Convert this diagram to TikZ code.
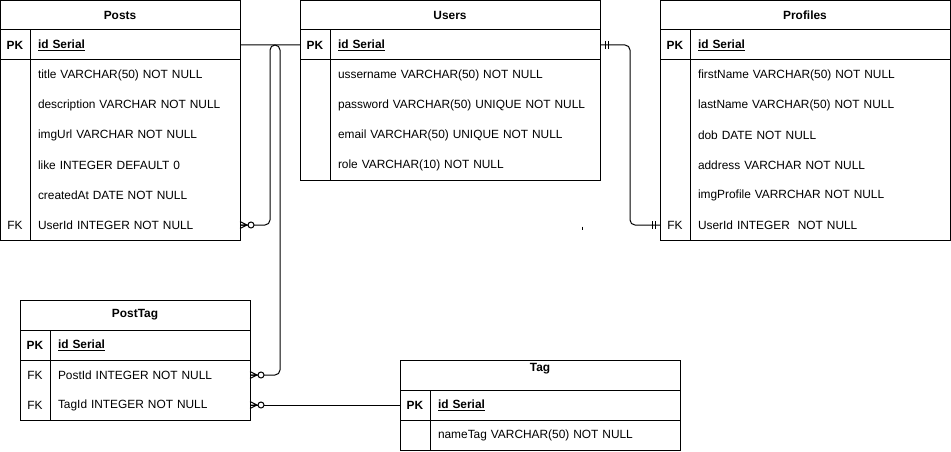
\documentclass[tikz,border=0pt]{standalone}
\usepackage{fontspec}
\setmainfont{Liberation Sans}
\begin{document}
\begin{tikzpicture}[x=1pt,y=-1pt,
  base/.style={font=\fontsize{11.9}{14}\selectfont, inner sep=0, outer sep=0},
  hdr/.style={base, font=\bfseries\fontsize{11.9}{14}\selectfont},
  keycell/.style={base, minimum width=30, minimum height=30},
  tbl/.style={draw, line width=1pt},
  conn/.style={line width=1pt, rounded corners=5},
  zmany/.pic={\draw[line width=1pt] (0,-3.5) -- (7,0) -- (0,3.5) (0,0) -- (7,0);
              \draw[line width=1pt, fill=white] (11,0) circle (3pt);},
  mone/.pic={\draw[line width=1pt] (5,-4) -- (5,4) (8,-4) -- (8,4);}
]
\useasboundingbox (0,0) rectangle (951,452);
\newcommand{\dn}[1]{\raisebox{-1pt}{#1}}
\newcommand{\fld}[5]{\node[base, anchor=west, minimum height=30, inner xsep=8,
  text width=#3-16, minimum width=#3, align=left] (#1) at (#2) {#4\dn{#5}};}
\newcommand{\pkid}{\textbf{\underline{id Serial}}}

% ---------- Posts ----------
\draw[tbl] (0.5,0.5) rectangle (240,240);
\draw[line width=1pt] (0.5,30) -- (240,30) (0.5,60) -- (240,60) (30,30) -- (30,240);
\node[hdr] (postsH) at (120,15) {\dn{Posts}};
\node[keycell, font=\bfseries\fontsize{11.9}{14}\selectfont] (postsPK) at (15,45) {\dn{PK}};
\fld{postsId}{30,45}{210}{}{\pkid}
\fld{postsTitle}{30,75}{210}{}{title VARCHAR(50) NOT NULL}
\fld{postsDesc}{30,105}{210}{}{description VARCHAR NOT NULL}
\fld{postsImg}{30,135}{210}{}{imgUrl VARCHAR NOT NULL}
\fld{postsLike}{30,165}{210}{}{like INTEGER DEFAULT 0}
\fld{postsCreated}{30,195}{210}{}{createdAt DATE NOT NULL}
\fld{postsUser}{30,225}{210}{}{UserId INTEGER NOT NULL}
\node[keycell] (postsUserK) at (15,225) {\dn{FK}};

% ---------- Users ----------
\draw[tbl] (300,0.5) rectangle (600,180);
\draw[line width=1pt] (300,30) -- (600,30) (300,60) -- (600,60) (330,30) -- (330,180);
\node[hdr] (usersH) at (450,15) {\dn{Users}};
\node[keycell, font=\bfseries\fontsize{11.9}{14}\selectfont] (usersPK) at (315,45) {\dn{PK}};
\fld{usersId}{330,45}{270}{}{\pkid}
\fld{usersName}{330,75}{270}{}{ussername VARCHAR(50) NOT NULL}
\fld{usersPw}{330,105}{270}{}{password VARCHAR(50) UNIQUE NOT NULL}
\fld{usersEmail}{330,135}{270}{}{email VARCHAR(50) UNIQUE NOT NULL}
\fld{usersRole}{330,165}{270}{}{role VARCHAR(10) NOT NULL}

% ---------- Profiles ----------
\draw[tbl] (660,0.5) rectangle (950,240);
\draw[line width=1pt] (660,30) -- (950,30) (660,60) -- (950,60) (690,30) -- (690,240);
\node[hdr] (profH) at (805,15) {\dn{Profiles}};
\node[keycell, font=\bfseries\fontsize{11.9}{14}\selectfont] (profPK) at (675,45) {\dn{PK}};
\fld{profId}{690,45}{260}{}{\pkid}
\fld{profFirst}{690,75}{260}{}{firstName VARCHAR(50) NOT NULL}
\fld{profLast}{690,105}{260}{}{lastName VARCHAR(50) NOT NULL}
\fld{profDob}{690,135}{260}{}{dob DATE NOT NULL}
\fld{profAddr}{690,165}{260}{}{address VARCHAR NOT NULL}
\fld{profImg}{690,195}{260}{}{imgProfile VARRCHAR NOT NULL}
\fld{profUid}{690,225}{260}{}{UserId INTEGER\ \ NOT NULL}
\node[keycell] (profUidK) at (675,225) {\dn{FK}};

% ---------- PostTag ----------
\draw[tbl] (20,300) rectangle (250,420);
\draw[line width=1pt] (20,330) -- (250,330) (20,360) -- (250,360) (50,330) -- (50,420);
\node[hdr] (ptH) at (135,315) {\dn{PostTag}};
\node[keycell, font=\bfseries\fontsize{11.9}{14}\selectfont] (ptPK) at (35,345) {\dn{PK}};
\fld{ptId}{50,345}{200}{}{\pkid}
\fld{ptPost}{50,375}{200}{}{PostId INTEGER NOT NULL}
\fld{ptTag}{50,405}{200}{}{TagId INTEGER NOT NULL}
\node[keycell] (ptPostK) at (35,375) {\dn{FK}};
\node[keycell] (ptTagK) at (35,405) {\dn{FK}};

% ---------- Tag ----------
\draw[tbl] (400,360) rectangle (680,450);
\draw[line width=1pt] (400,390) -- (680,390) (400,420) -- (680,420) (430,390) -- (430,450);
\node[hdr] (tagH) at (540,369) {\dn{Tag}};
\node[keycell, font=\bfseries\fontsize{11.9}{14}\selectfont] (tagPK) at (415,405) {\dn{PK}};
\fld{tagId}{430,405}{250}{}{\pkid}
\fld{tagName}{430,435}{250}{}{nameTag VARCHAR(50) NOT NULL}

% ---------- Connectors ----------
\draw[conn] (postsUser.east) -- ++(30,0) |- (usersPK.west);
\draw[conn] (ptPost.east) -- ++(30,0) |- (postsId.east);
\draw[conn] (usersId.east) -- ++(30,0) |- (profUidK.west);
\draw[conn] (ptTag.east) -- (tagPK.west);

\pic at (postsUser.east) {zmany};
\pic at (ptPost.east) {zmany};
\pic at (ptTag.east) {zmany};
\pic at (usersId.east) {mone};
\pic[xscale=-1] at (profUidK.west) {mone};

% stray mark
\draw[line width=1pt] (582,226.5) -- (582,229.5);
\end{tikzpicture}
\end{document}
